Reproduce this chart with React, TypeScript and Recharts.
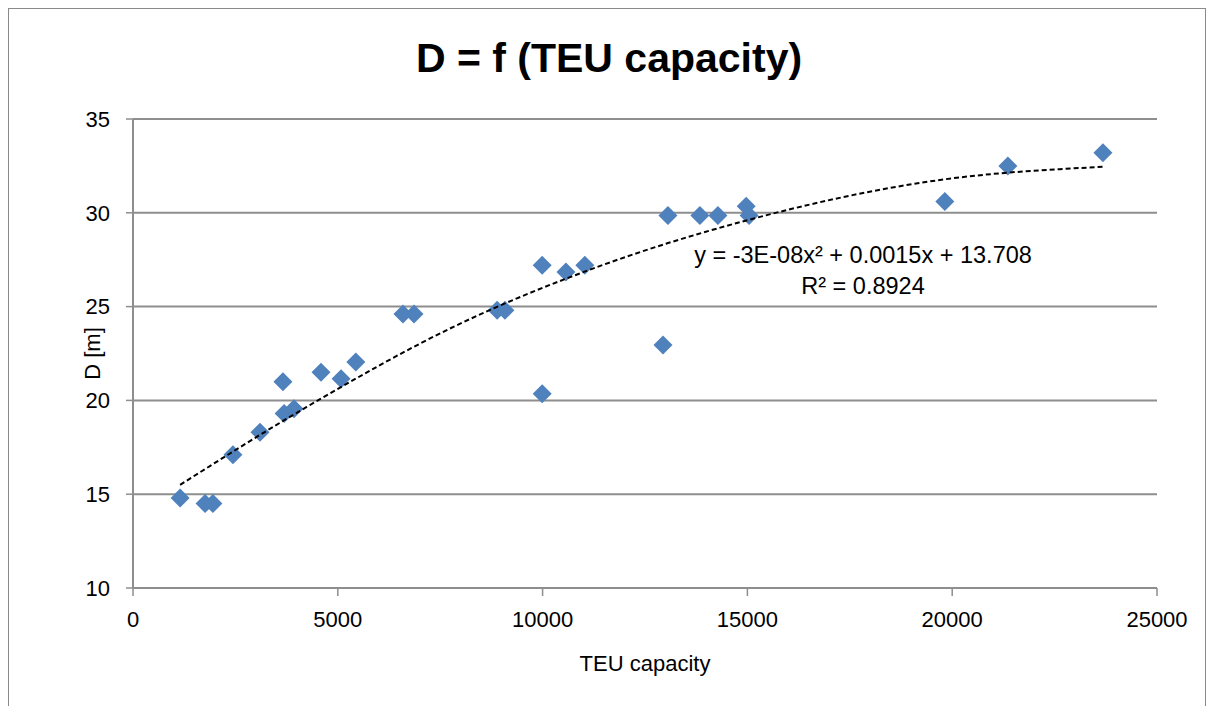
import React from "react"
import { ScatterChart, Scatter, XAxis, YAxis, CartesianGrid, Label } from "recharts"

// TEU capacity vs design draft D [m]
const teu = [
  1150, 1760, 1950, 2440, 3100, 3660, 3690, 3930, 4590, 5080, 5440, 6590, 6860, 8890,
  9080, 9990, 9990, 10570, 11030, 12940, 13060, 13840, 14280, 14970, 15040, 19820, 21360, 23680,
]
const draft = [
  14.8, 14.5, 14.5, 17.1, 18.3, 21.0, 19.3, 19.55, 21.5, 21.15, 22.05, 24.6, 24.6, 24.8,
  24.8, 27.2, 20.35, 26.85, 27.2, 22.95, 29.85, 29.85, 29.85, 30.35, 29.85, 30.6, 32.5, 33.2,
]

// polynomial trendline
const trendTeu = [1150, 4240, 7900, 11320, 14820, 19700, 23680]
const trendD = [15.5, 19.65, 24.0, 27.1, 29.5, 31.75, 32.45]

const xTicks = [0, 5000, 10000, 15000, 20000, 25000]
const yTicks = [10, 15, 20, 25, 30, 35]

const points = teu.map((x, i) => ({ x, y: draft[i] }))
const trend = trendTeu.map((x, i) => ({ x, y: trendD[i] }))

const FONT = "'Liberation Sans', Arial, sans-serif"
const GRID = "#8e8e8e"

const Diamond = (props: any) => {
  const { cx, cy } = props
  const r = 9.5
  return (
    <polygon
      points={`${cx},${cy - r} ${cx + r},${cy} ${cx},${cy + r} ${cx - r},${cy}`}
      fill="#4f81bd"
    />
  )
}

const NoDot = () => <g />

export default function App() {
  return (
    <div
      style={{
        position: "relative",
        width: 1196,
        height: 700,
        borderTop: "1px solid #8a8a8a",
        borderLeft: "1px solid #8a8a8a",
        borderRight: "1px solid #8a8a8a",
        background: "#fff",
        fontFamily: FONT,
      }}
    >
      <style>{"html,body{overflow:hidden}"}</style>
      <div
        style={{
          position: "absolute",
          left: 2,
          top: 26,
          width: 1196,
          textAlign: "center",
          fontSize: 41,
          fontWeight: "bold",
          lineHeight: "46px",
          color: "#000",
        }}
      >
        D = f (TEU capacity)
      </div>
      <div
        style={{
          position: "absolute",
          left: 654,
          top: 231,
          width: 400,
          textAlign: "center",
          fontSize: 23.5,
          lineHeight: "31px",
          color: "#000",
        }}
      >
        <div>y = -3E-08x² + 0.0015x + 13.708</div>
        <div>R² = 0.8924</div>
      </div>
      <ScatterChart
        width={1196}
        height={697}
        margin={{ top: 110, right: 48, bottom: 33, left: 44 }}
      >
        <CartesianGrid horizontal vertical={false} stroke={GRID} strokeWidth={2} />
        <XAxis
          type="number"
          dataKey="x"
          domain={[0, 25000]}
          ticks={xTicks}
          interval={0}
          height={85}
          tickSize={8}
          tickMargin={15}
          axisLine={{ stroke: GRID, strokeWidth: 2 }}
          tickLine={{ stroke: GRID, strokeWidth: 1.5 }}
          tick={{ fill: "#000", fontSize: 22, fontFamily: FONT }}
        >
          <Label
            value="TEU capacity"
            position="insideBottom"
            offset={2}
            style={{ fill: "#000", fontSize: 22, fontFamily: FONT }}
          />
        </XAxis>
        <YAxis
          type="number"
          dataKey="y"
          domain={[10, 35]}
          ticks={yTicks}
          interval={0}
          width={80}
          tickSize={7}
          tickMargin={16}
          axisLine={{ stroke: GRID, strokeWidth: 2 }}
          tickLine={{ stroke: GRID, strokeWidth: 1.5 }}
          tick={{ fill: "#000", fontSize: 22, fontFamily: FONT }}
        >
          <Label
            value="D [m]"
            angle={-90}
            position="insideLeft"
            offset={39}
            style={{ fill: "#000", fontSize: 22, fontFamily: FONT, textAnchor: "middle" }}
          />
        </YAxis>
        <Scatter data={points} shape={<Diamond />} isAnimationActive={false} />
        <Scatter
          data={trend}
          shape={<NoDot />}
          line={{ stroke: "#000", strokeWidth: 2, strokeDasharray: "5 3" }}
          lineJointType="monotoneX"
          isAnimationActive={false}
        />
      </ScatterChart>
    </div>
  )
}
